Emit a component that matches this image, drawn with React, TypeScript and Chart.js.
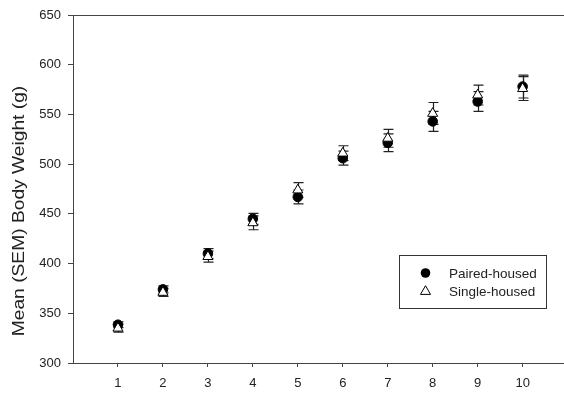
import React, { useEffect, useRef } from "react";
import { Chart, registerables } from "chart.js";

Chart.register(...registerables);

const weeks = [1, 2, 3, 4, 5, 6, 7, 8, 9, 10];
const pairedMean = [338.5, 374, 410, 445, 467, 506, 521.5, 543, 563, 578];
const pairedSem = [3, 3.5, 5, 5.5, 7, 7, 9, 10, 10, 11.5];
const singleMean = [335, 371, 407, 441, 474, 511, 526, 551, 569.5, 576];
const singleSem = [4, 4, 5.5, 7, 7.5, 7.5, 9, 11, 10, 12];
const xTicks = [1, 2, 3, 4, 5, 6, 7, 8, 9, 10];
const yTicks = [300, 350, 400, 450, 500, 550, 600, 650];
const seriesLabels = ["Paired-housed", "Single-housed"];
const yTitle = "Mean (SEM) Body Weight (g)";

const FONT = "'Liberation Sans', Arial, sans-serif";
const AXIS = "#444";
const TEXT = "#222";

const errorBars = {
  id: "errorBars",
  beforeDatasetsDraw(chart: any) {
    const { ctx, scales } = chart;
    const xs = scales.x;
    const ys = scales.y;
    const sets = [
      { m: pairedMean, e: pairedSem },
      { m: singleMean, e: singleSem },
    ];
    ctx.save();
    ctx.strokeStyle = "#222";
    ctx.lineWidth = 1.2;
    sets.forEach((s) => {
      weeks.forEach((w, i) => {
        const px = Math.round(xs.getPixelForValue(w)) + 0.5;
        const top = ys.getPixelForValue(s.m[i] + s.e[i]);
        const bot = ys.getPixelForValue(s.m[i] - s.e[i]);
        ctx.beginPath();
        ctx.moveTo(px, top);
        ctx.lineTo(px, bot);
        ctx.moveTo(px - 5, top);
        ctx.lineTo(px + 5, top);
        ctx.moveTo(px - 5, bot);
        ctx.lineTo(px + 5, bot);
        ctx.stroke();
      });
    });
    ctx.restore();
  },
};

const decor = {
  id: "decor",
  afterDraw(chart: any) {
    const { ctx, chartArea } = chart;
    ctx.save();
    ctx.strokeStyle = AXIS;
    ctx.lineWidth = 1;
    ctx.beginPath();
    ctx.moveTo(chartArea.left, Math.round(chartArea.top) + 0.5);
    ctx.lineTo(chartArea.right, Math.round(chartArea.top) + 0.5);
    ctx.stroke();

    ctx.save();
    ctx.translate(19, 211);
    ctx.rotate(-Math.PI / 2);
    ctx.scale(1.13, 1);
    ctx.font = `17px ${FONT}`;
    ctx.fillStyle = TEXT;
    ctx.textAlign = "center";
    ctx.textBaseline = "middle";
    ctx.fillText(yTitle, 0, 0);
    ctx.restore();

    ctx.strokeStyle = "#333";
    ctx.lineWidth = 1;
    ctx.strokeRect(399.5, 255.5, 147, 53);
    ctx.fillStyle = "#000";
    ctx.beginPath();
    ctx.arc(425.5, 273, 4.8, 0, Math.PI * 2);
    ctx.fill();
    const r = 5.8;
    const cx = 425.5;
    const cy = 291.5;
    ctx.beginPath();
    ctx.moveTo(cx, cy - r);
    ctx.lineTo(cx + Math.sin((2 * Math.PI) / 3) * r, cy + r * 0.5);
    ctx.lineTo(cx - Math.sin((2 * Math.PI) / 3) * r, cy + r * 0.5);
    ctx.closePath();
    ctx.fillStyle = "#fff";
    ctx.fill();
    ctx.strokeStyle = "#000";
    ctx.stroke();
    ctx.fillStyle = TEXT;
    ctx.font = `13.5px ${FONT}`;
    ctx.textAlign = "left";
    ctx.textBaseline = "middle";
    ctx.fillText(seriesLabels[0], 449, 274);
    ctx.fillText(seriesLabels[1], 449, 292);
    ctx.restore();
  },
};

export default function App() {
  const ref = useRef<HTMLCanvasElement | null>(null);
  useEffect(() => {
    if (!ref.current) return;
    const chart = new Chart(ref.current, {
      type: "scatter",
      data: {
        datasets: [
          {
            label: seriesLabels[0],
            data: weeks.map((w, i) => ({ x: w, y: pairedMean[i] })),
            pointStyle: "circle",
            pointRadius: 4.8,
            backgroundColor: "#000",
            borderColor: "#000",
            borderWidth: 1,
            order: 2,
          },
          {
            label: seriesLabels[1],
            data: weeks.map((w, i) => ({ x: w, y: singleMean[i] })),
            pointStyle: "triangle",
            pointRadius: 5.8,
            backgroundColor: "#fff",
            borderColor: "#000",
            borderWidth: 1,
            order: 1,
          },
        ],
      },
      options: {
        animation: false,
        responsive: false,
        devicePixelRatio: 1,
        layout: { autoPadding: false, padding: { top: 15, right: 0, left: 0, bottom: 0 } },
        plugins: {
          legend: { display: false },
          tooltip: { enabled: false },
        },
        scales: {
          x: {
            type: "linear",
            min: 0,
            max: 10.92,
            afterBuildTicks: (s: any) => {
              s.ticks = xTicks.map((v) => ({ value: v }));
            },
            afterFit: (s: any) => {
              s.height = 30;
              s.paddingRight = 0;
              s.paddingLeft = 0;
            },
            grid: {
              drawOnChartArea: false,
              drawTicks: true,
              tickLength: 4,
              color: AXIS,
            },
            border: { display: true, color: AXIS, width: 1 },
            ticks: {
              color: TEXT,
              font: { family: FONT, size: 13 },
              padding: 9,
              maxRotation: 0,
            },
          },
          y: {
            min: 300,
            max: 650,
            afterBuildTicks: (s: any) => {
              s.ticks = yTicks.map((v) => ({ value: v }));
            },
            afterFit: (s: any) => {
              s.width = 73;
            },
            grid: {
              drawOnChartArea: false,
              drawTicks: true,
              tickLength: 5,
              color: AXIS,
            },
            border: { display: true, color: AXIS, width: 1 },
            ticks: {
              color: TEXT,
              font: { family: FONT, size: 13 },
              padding: 7,
            },
          },
        },
      },
      plugins: [errorBars, decor],
    } as any);
    return () => chart.destroy();
  }, []);
  return (
    <div style={{ position: "absolute", left: 0, top: 0, width: 564, height: 393, background: "#fff" }}>
      <canvas ref={ref} width={564} height={393} />
    </div>
  );
}
